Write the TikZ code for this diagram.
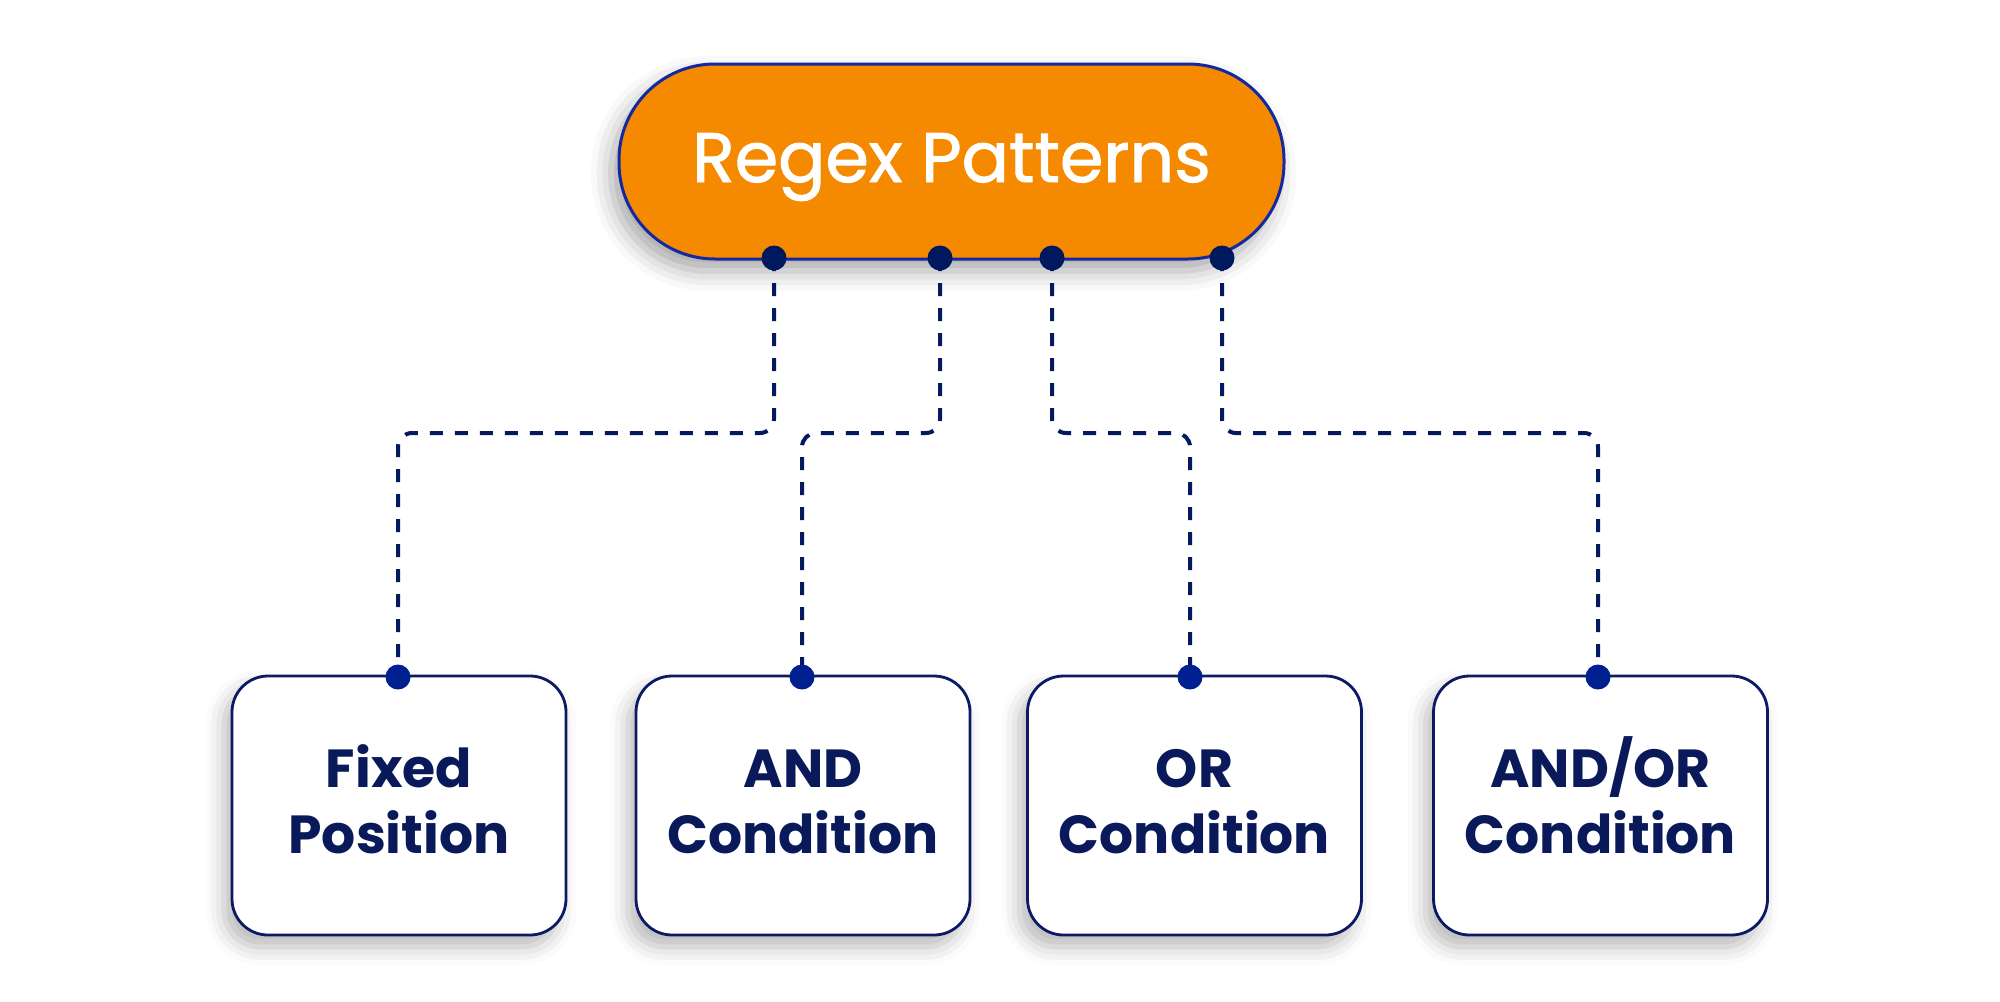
\documentclass[tikz,border=0pt]{standalone}
\usepackage{fontspec}
\setmainfont{Poppins}
\newfontfamily\titlefont[FakeBold=1.4]{Poppins}
\usetikzlibrary{shadows.blur}
\definecolor{navytext}{RGB}{10,25,90}
\definecolor{topdotc}{RGB}{0,24,94}
\definecolor{botdotc}{RGB}{0,32,145}
\definecolor{pillborder}{RGB}{20,40,160}
\definecolor{boxborder}{RGB}{12,26,100}
\definecolor{linec}{RGB}{5,25,95}
\definecolor{orangec}{RGB}{245,138,0}
\newdimen\mylsl
\mylsl=-30pt
\tikzset{
  pill/.style={rectangle, rounded corners=48pt, draw=pillborder, line width=1.5pt,
    fill=orangec, minimum width=332.5pt, minimum height=97.5pt, inner sep=0pt,
    text=white, font=\titlefont\fontsize{35pt}{42pt}\selectfont,
    text height=24.5pt, text depth=4pt,
    blur shadow={shadow xshift=-4pt, shadow yshift=-6pt, shadow blur radius=10pt, shadow opacity=35}},
  catbox/.style={rectangle, rounded corners=18pt, draw=boxborder, line width=1.4pt,
    fill=white, minimum width=167pt, minimum height=129.5pt, inner sep=0pt,
    text=navytext, align=center,
    font=\fontsize{26.8pt}{33pt}\selectfont\bfseries,
    execute at begin node={\lineskiplimit=\mylsl\relax},
    text height=51.8pt, text depth=3.5pt,
    blur shadow={shadow xshift=-4pt, shadow yshift=-6pt, shadow blur radius=9pt, shadow opacity=28}},
  conn/.style={draw=linec, line width=2pt, dash pattern=on 6.5pt off 6pt, rounded corners=7pt},
  topdot/.style={fill=topdotc},
  botdot/.style={fill=botdotc}
}
\begin{document}
\begin{tikzpicture}[x=0.5pt, y=-0.5pt]
\useasboundingbox (0,0) rectangle (2000,1001);
\node[pill] (root) at (951.5,161.5) {Regex Patterns};
\node[catbox] (c1) at (399,805.5) {Fixed\\Position};
\node[catbox] (c2) at (803,805.5) {AND\\Condition};
\node[catbox] (c3) at (1194.5,805.5) {OR\\Condition};
\node[catbox] (c4) at (1600.5,805.5) {AND/OR\\Condition};
\coordinate (h) at (0,433);
\coordinate (t1) at (774,258);
\coordinate (t2) at (940,258);
\coordinate (t3) at (1052,258);
\coordinate (t4) at (1222,258);
\coordinate (b1) at (398,677);
\coordinate (b2) at (802,677);
\coordinate (b3) at (1190,677);
\coordinate (b4) at (1598,677);
\draw[conn] (t1) -- (t1 |- h) -| (b1);
\draw[conn] (t2) -- (t2 |- h) -| (b2);
\draw[conn] (t3) -- (t3 |- h) -| (b3);
\draw[conn] (t4) -- (t4 |- h) -| (b4);
\foreach \p in {t1,t2,t3,t4} \fill[topdot] (\p) circle (6.25pt);
\foreach \p in {b1,b2,b3,b4} \fill[botdot] (\p) circle (6.25pt);
\end{tikzpicture}
\end{document}
